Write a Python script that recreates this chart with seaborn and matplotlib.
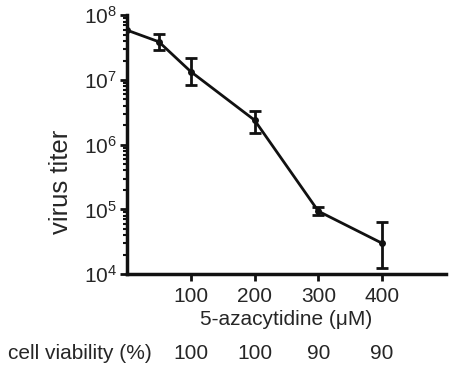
import numpy as np
import pandas as pd
import matplotlib
matplotlib.use('Agg')
import matplotlib.pyplot as plt
import seaborn as sns
from matplotlib.ticker import LogLocator, NullFormatter

# data
dose = [0, 50, 100, 200, 300, 400]
titer = [5.9e7, 3.9e7, 1.35e7, 2.4e6, 9.4e4, 3.0e4]
# error bars (no visible bar at dose 0)
err_dose = [50, 100, 200, 300, 400]
err_mid = [3.9e7, 1.35e7, 2.4e6, 9.4e4, 3.0e4]
err_hi = [5.2e7, 2.2e7, 3.3e6, 1.1e5, 6.5e4]
err_lo = [2.9e7, 8.3e6, 1.5e6, 8.1e4, 1.26e4]

viab_dose = [100, 200, 300, 400]
viability = ['100', '100', '90', '90']

sns.set_style('ticks')
plt.rcParams['font.family'] = ['Liberation Sans', 'DejaVu Sans']
plt.rcParams['mathtext.fontset'] = 'custom'
plt.rcParams['mathtext.rm'] = 'Liberation Sans'

df = pd.DataFrame({'dose': dose, 'titer': titer})

fig = plt.figure(figsize=(4.5, 3.73), dpi=100)
ax = fig.add_axes([0.282, 0.265, 0.709, 0.694])

yerr = np.array([np.array(err_mid) - np.array(err_lo), np.array(err_hi) - np.array(err_mid)])
ax.errorbar(err_dose, err_mid, yerr=yerr, fmt='none', ecolor='#111111',
            elinewidth=2, capsize=4, capthick=2, zorder=3)
sns.lineplot(data=df, x='dose', y='titer', ax=ax, color='#111111',
             linewidth=2, marker='o', markersize=5, markeredgewidth=0, zorder=4)

ax.set_yscale('log')
ax.set_ylim(1e4, 1e8)
ax.set_xlim(0, 500)
ax.set_xticks([100, 200, 300, 400])
ax.yaxis.set_major_locator(LogLocator(base=10, numticks=10))
ax.yaxis.set_minor_locator(LogLocator(base=10, subs=np.arange(2, 10), numticks=20))
ax.yaxis.set_minor_formatter(NullFormatter())

for s in ['top', 'right']:
    ax.spines[s].set_visible(False)
for s in ['left', 'bottom']:
    ax.spines[s].set_linewidth(2.5)
    ax.spines[s].set_color('#111111')

ax.tick_params(axis='both', which='major', length=5, width=2, labelsize=15,
               color='#111111', pad=2)
ax.tick_params(axis='x', which='major', pad=4)
ax.tick_params(axis='y', which='minor', length=3, width=1.5, color='#111111')

ax.set_xlabel('5-azacytidine (μM)', fontsize=15, labelpad=3)
ax.set_ylabel('virus titer', fontsize=18.5)
ax.yaxis.set_label_coords(-0.17, 0.355)

# cell viability row below the axis
trans = ax.get_xaxis_transform()
fig.text(0.018, 0.053, 'cell viability (%)', fontsize=15, va='center', ha='left')
for xv, lab in zip(viab_dose, viability):
    ax.text(xv, -0.305, lab, transform=trans, fontsize=15, ha='center', va='center')

fig.savefig('out.png', dpi=100)
